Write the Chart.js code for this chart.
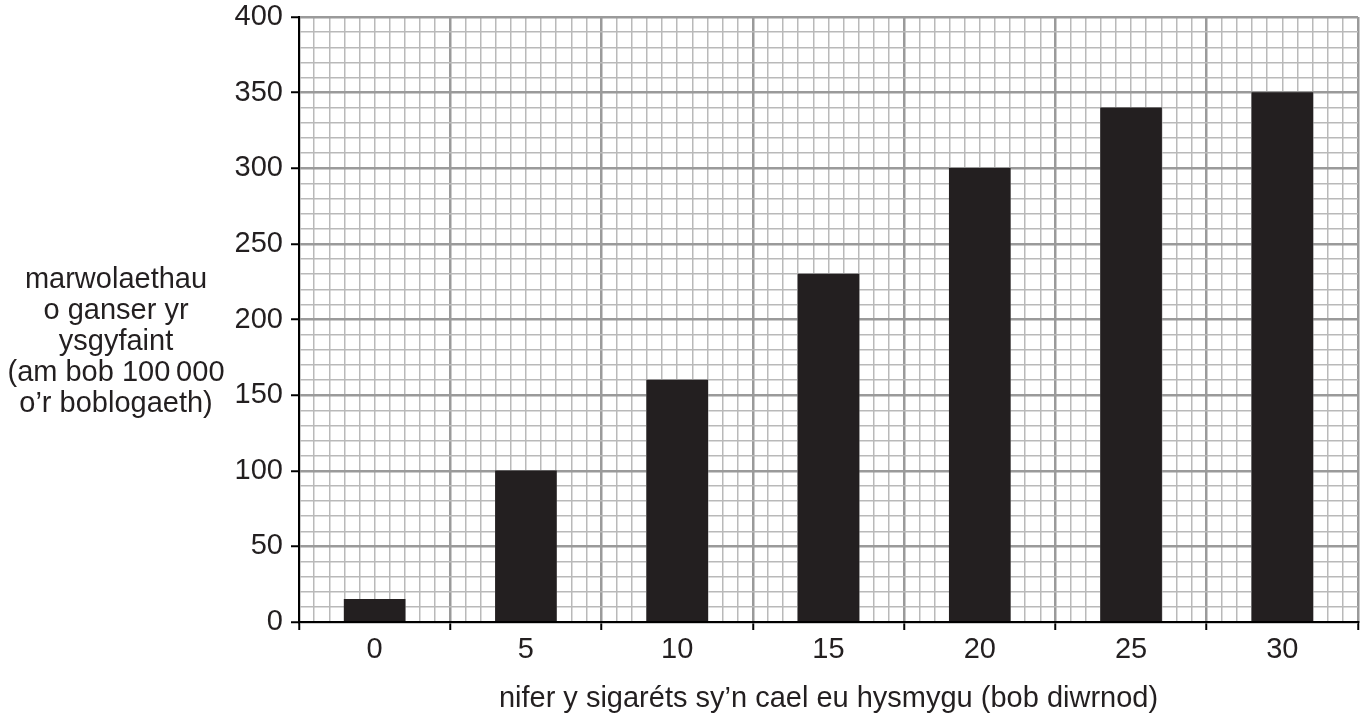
<!DOCTYPE html>
<html>
<head>
<meta charset="utf-8">
<script src="https://cdn.jsdelivr.net/npm/chart.js@4/dist/chart.umd.min.js"></script>
<style>
html,body{margin:0;padding:0;background:#fff;}
#wrap{position:relative;width:1360px;height:717px;}
</style>
</head>
<body>
<div id="wrap"><canvas id="c" width="1360" height="717"></canvas></div>
<script>
const categories = ['0', '5', '10', '15', '20', '25', '30'];
const deaths = [15, 100, 160, 230, 300, 340, 350];
const yTitleLines = ['marwolaethau', 'o ganser yr', 'ysgyfaint', '(am bob 100\u2009000', 'o\u2019r boblogaeth)'];
const xTitle = 'nifer y sigaréts sy\u2019n cael eu hysmygu (bob diwrnod)';
const yMin = 0, yMax = 400, yMajor = 50, yMinor = 10;
const xMinorPerCategory = 10;

const FONT = '"Liberation Sans", Arial, sans-serif';
const TEXT = '#231f20';
const MAJOR = '#9a9a9a', MINOR = '#b9b9b9';

const yTitlePlugin = {
  id: 'yTitle',
  afterDraw(chart) {
    const ctx = chart.ctx;
    ctx.save();
    ctx.font = '29px ' + FONT;
    ctx.fillStyle = TEXT;
    ctx.textAlign = 'center';
    ctx.textBaseline = 'middle';
    const y0 = 280, lh = 31;
    yTitleLines.forEach((t, i) => {
      ctx.fillText(t, 116, y0 + i * lh);
    });
    ctx.restore();
  }
};

function isXMajor(c) {
  if (!c.tick) return false;
  const k = Math.round((c.tick.value + 0.5) * xMinorPerCategory);
  return k % xMinorPerCategory === 0;
}

new Chart(document.getElementById('c'), {
  type: 'bar',
  data: {
    labels: categories,
    datasets: [{
      data: deaths,
      backgroundColor: TEXT,
      borderWidth: 0,
      barThickness: 61
    }]
  },
  options: {
    responsive: false,
    animation: false,
    devicePixelRatio: 1,
    layout: { padding: { top: 17, right: 2, left: 0, bottom: 0 } },
    plugins: { legend: { display: false }, tooltip: { enabled: false } },
    scales: {
      x: {
        type: 'category',
        position: 'bottom',
        offset: true,
        afterBuildTicks(s) {
          const n = categories.length * xMinorPerCategory;
          const t = [];
          for (let k = 0; k <= n; k++) t.push({ value: k / xMinorPerCategory - 0.5 });
          s.ticks = t;
        },
        grid: {
          display: true,
          offset: false,
          drawOnChartArea: true,
          drawTicks: true,
          tickLength: 8,
          tickWidth: 2,
          tickColor: (c) => isXMajor(c) ? '#000' : 'rgba(0,0,0,0)',
          color: (c) => isXMajor(c) ? MAJOR : MINOR,
          lineWidth: (c) => isXMajor(c) ? 2.5 : 1.5
        },
        border: { display: true, color: '#000', width: 2 },
        ticks: {
          autoSkip: false,
          maxRotation: 0,
          minRotation: 0,
          color: TEXT,
          font: { family: FONT, size: 29 },
          padding: 3,
          callback: function (value, index, ticks) {
            const v = ticks[index].value;
            return Math.abs(v - Math.round(v)) < 1e-6 ? categories[Math.round(v)] : '';
          }
        },
        title: { display: true, text: xTitle, color: TEXT, font: { family: FONT, size: 29 }, padding: { top: 0, bottom: 1 } },
        afterFit(s) { s.height = 95; s.paddingLeft = 0; s.paddingRight = 0; }
      },
      y: {
        type: 'linear',
        position: 'left',
        min: yMin, max: yMax,
        ticks: {
          stepSize: yMinor,
          autoSkip: false,
          color: TEXT,
          font: { family: FONT, size: 29 },
          padding: 8,
          callback: (v) => (v % yMajor === 0 ? String(v) : '')
        },
        border: { display: true, color: '#000', width: 2 },
        grid: {
          drawTicks: true,
          tickLength: 8,
          tickWidth: 2,
          tickColor: (c) => (c.tick && c.tick.value % yMajor === 0) ? '#000' : 'rgba(0,0,0,0)',
          color: (c) => (c.tick && c.tick.value % yMajor === 0) ? MAJOR : MINOR,
          lineWidth: (c) => (c.tick && c.tick.value % yMajor === 0) ? 2.5 : 1.5
        },
        afterFit(s) { s.width = 299; s.paddingTop = 0; s.paddingBottom = 0; }
      }
    }
  },
  plugins: [yTitlePlugin]
});
</script>
</body>
</html>
